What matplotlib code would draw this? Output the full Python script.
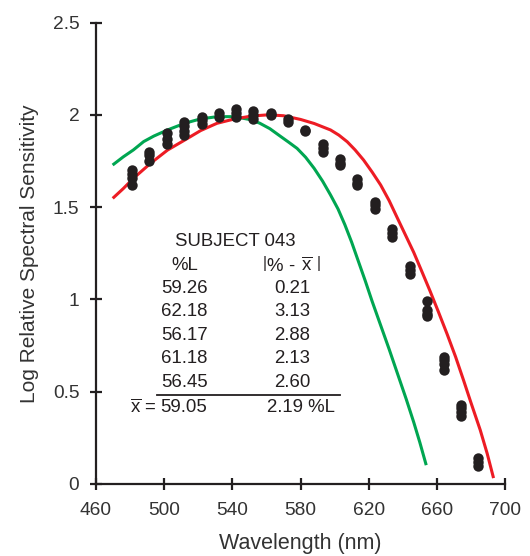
import matplotlib
matplotlib.use("Agg")
import matplotlib.pyplot as plt

plt.rcParams['font.family'] = ['Liberation Sans', 'DejaVu Sans']
plt.rcParams['mathtext.fontset'] = 'custom'
plt.rcParams['mathtext.rm'] = 'Liberation Sans'

# measured sensitivities (several runs per wavelength)
point_wl = [481, 491, 501.5, 511.5, 522, 532, 542, 552, 562.5, 572.5, 582.5,
            593, 603, 613, 623.5, 633.5, 644, 654, 664, 674, 684]
point_vals = [
    [1.70, 1.68, 1.66, 1.62],
    [1.80, 1.78, 1.75],
    [1.90, 1.87, 1.84],
    [1.96, 1.94, 1.91, 1.89],
    [1.99, 1.97, 1.95],
    [2.01, 1.99],
    [2.03, 2.01, 1.99],
    [2.02, 2.00, 1.98],
    [2.01, 2.00],
    [1.98, 1.96],
    [1.92, 1.91],
    [1.84, 1.82, 1.80],
    [1.76, 1.74, 1.73],
    [1.65, 1.63, 1.62],
    [1.53, 1.51, 1.49],
    [1.38, 1.36, 1.34],
    [1.18, 1.16, 1.14],
    [0.99, 0.94, 0.92, 0.91],
    [0.69, 0.67, 0.65, 0.62],
    [0.43, 0.41, 0.39, 0.37],
    [0.14, 0.12, 0.10],
]

# M-cone (green) and L-cone (red) template curves
green_wl = [470.5, 476, 482, 488, 494, 502, 512, 521, 531, 541, 550, 556,
            562, 568, 573, 578, 583, 588, 593, 597.6, 602, 606, 610, 614,
            618, 622, 627, 632, 637, 642, 646.4, 650, 653.5]
green_val = [1.733, 1.772, 1.81, 1.855, 1.885, 1.918, 1.954, 1.977, 1.99,
             1.99, 1.975, 1.955, 1.925, 1.885, 1.852, 1.818, 1.77, 1.71,
             1.64, 1.566, 1.49, 1.405, 1.31, 1.205, 1.10, 0.99, 0.86,
             0.73, 0.595, 0.46, 0.335, 0.225, 0.11]
red_wl = [470.5, 476, 482, 492, 502, 512, 521.5, 531, 541, 551, 561, 570,
          580, 588, 597.6, 602.5, 607.4, 612, 617, 622, 627, 632, 636.6,
          641.5, 646.4, 651, 656, 661, 666, 671, 675.6, 680, 685.4, 689.5,
          693]
red_val = [1.553, 1.60, 1.656, 1.737, 1.809, 1.863, 1.915, 1.954, 1.977,
           1.993, 2.0, 1.995, 1.975, 1.953, 1.918, 1.89, 1.854, 1.81, 1.755,
           1.69, 1.62, 1.535, 1.445, 1.35, 1.255, 1.155, 1.045, 0.93, 0.812,
           0.688, 0.563, 0.44, 0.293, 0.165, 0.04]

# table text
subject = "SUBJECT 043"
pct_L = ["59.26", "62.18", "56.17", "61.18", "56.45"]
abs_dev = ["0.21", "3.13", "2.88", "2.13", "2.60"]
mean_L = "59.05"
mean_dev = "2.19 %L"

fig = plt.figure(figsize=(5.3, 5.56), dpi=100)
ax = fig.add_axes([0.181, 0.1295, 0.772, 0.830])

ax.plot(green_wl, green_val, color='#00a651', lw=2.2, zorder=2,
        solid_joinstyle='round')
ax.plot(red_wl, red_val, color='#ed1c24', lw=2.2, zorder=2,
        solid_joinstyle='round')

for wl, vals in zip(point_wl, point_vals):
    ax.plot([wl] * len(vals), vals, 'o', color='#231f20', ms=7.5,
            mec='none', zorder=3)

ax.set_xlim(460, 700)
ax.set_ylim(0, 2.5)
ax.set_xticks(range(460, 701, 40))
ax.set_yticks([0, 0.5, 1, 1.5, 2, 2.5])
ax.set_yticklabels(['0', '0.5', '1', '1.5', '2', '2.5'])
for s in ['top', 'right']:
    ax.spines[s].set_visible(False)
for s in ['left', 'bottom']:
    ax.spines[s].set_linewidth(1.6)
    ax.spines[s].set_color('#231f20')
ax.tick_params(direction='inout', length=8, width=1.6, labelsize=13.8,
               colors='#231f20', labelcolor='#333333')
ax.tick_params(axis='x', pad=9)
ax.tick_params(axis='y', pad=8)
ax.set_xlabel('Wavelength (nm)', fontsize=15.5, color='#333333', labelpad=10)
ax.set_ylabel('Log Relative Spectral Sensitivity', fontsize=15,
              color='#333333', labelpad=10)

# inset table
tk = dict(fontsize=13.4, color='#231f20', ha='center', va='center')
ax.text(541.7, 1.313, subject, **tk)
ax.text(512, 1.186, '%L', **tk)
ax.text(575, 1.186, r'$\left|\mathrm{\%}\ \text{-}\ \overline{\mathrm{x}}\ \right|$', **tk)
row_y = [1.060, 0.933, 0.807, 0.681, 0.551]
for y, a, b in zip(row_y, pct_L, abs_dev):
    ax.text(511.7, y, a, **tk)
    ax.text(575.3, y, b, **tk)
ax.plot([496.1, 602.9], [0.482, 0.482], color='#231f20', lw=1.3)
ax.text(511.7, 0.4155, mean_L, **tk)
ax.text(495.5, 0.4155, r'$\overline{\mathrm{x}}$ =', fontsize=13.4,
        color='#231f20', ha='right', va='center')
ax.text(580, 0.4155, mean_dev, **tk)

fig.savefig('out.png', dpi=100)
